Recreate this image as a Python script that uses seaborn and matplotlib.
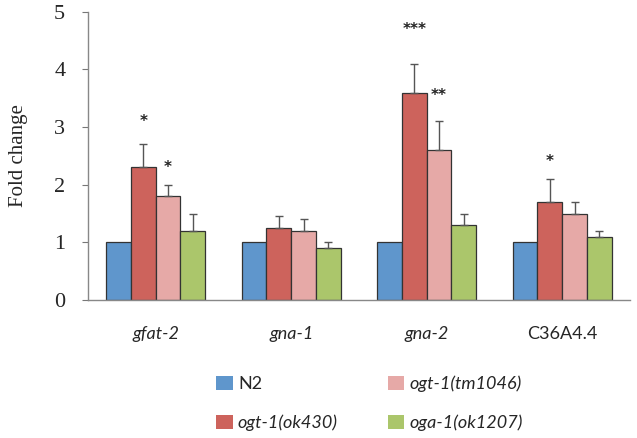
import numpy as np
import pandas as pd
import seaborn as sns
import matplotlib.pyplot as plt
from matplotlib.patches import Patch

genes = ["gfat-2", "gna-1", "gna-2", "C36A4.4"]
strains = ["N2", "ogt-1(ok430)", "ogt-1(tm1046)", "oga-1(ok1207)"]

n2 = [1.0, 1.0, 1.0, 1.0]
ok430 = [2.3, 1.25, 3.6, 1.7]
tm1046 = [1.8, 1.2, 2.6, 1.5]
ok1207 = [1.2, 0.9, 1.3, 1.1]

n2_err = [0, 0, 0, 0]
ok430_err = [0.4, 0.2, 0.5, 0.4]
tm1046_err = [0.2, 0.2, 0.5, 0.2]
ok1207_err = [0.3, 0.1, 0.2, 0.1]

ok430_stars = ["*", "", "***", "*"]
tm1046_stars = ["*", "", "**", ""]
ok430_star_y = [3.1, 0, 4.7, 2.4]
tm1046_star_y = [2.3, 0, 3.55, 0]

colors = ["#5F96CC", "#CD635C", "#E6A9A7", "#ABC66B"]

df = pd.DataFrame({
    "gene": genes * 4,
    "strain": np.repeat(strains, 4),
    "fold": n2 + ok430 + tm1046 + ok1207,
    "err": n2_err + ok430_err + tm1046_err + ok1207_err,
})

sns.set_style("white")
fig = plt.figure(figsize=(6.37, 4.38), dpi=100)
ax = fig.add_axes([0.138, 0.315, 0.851, 0.658])

sns.barplot(data=df, x="gene", y="fold", hue="strain", hue_order=strains,
            palette=colors, width=0.73, edgecolor="#333333", linewidth=0.9,
            errorbar=None, legend=False, ax=ax, saturation=1)

# upper-only error bars
for cont, s in zip(ax.containers, strains):
    sub = df[df.strain == s]
    for bar, e in zip(cont, sub["err"]):
        if e > 0:
            xc = bar.get_x() + bar.get_width() / 2
            ax.errorbar(xc, bar.get_height(), yerr=[[0], [e]], fmt="none",
                        ecolor="#555555", elinewidth=1, capsize=3, capthick=1)

# significance stars
for cont, stars, ys in [(ax.containers[1], ok430_stars, ok430_star_y),
                        (ax.containers[2], tm1046_stars, tm1046_star_y)]:
    for bar, st, y in zip(cont, stars, ys):
        if st:
            xc = bar.get_x() + bar.get_width() / 2
            ax.text(xc, y, st, ha="center", va="center", fontsize=11,
                    fontweight="bold", color="#222222")

ax.set_ylim(0, 5)
ax.set_xlim(-0.5, 3.5)
ax.set_yticks(range(6))
ax.set_yticklabels([str(i) for i in range(6)], family="Liberation Serif", fontsize=16)
ax.set_ylabel("Fold change", family="Liberation Serif", fontsize=15)
ax.yaxis.set_label_coords(-0.11, 0.5)
ax.set_xlabel("")
ax.set_xticks(range(4))
ax.set_xticklabels([])
for i, g in enumerate(genes):
    ax.text(i, -0.45, g, ha="center", va="top", fontsize=13, family="Lato",
            style="normal" if g == "C36A4.4" else "italic",
            transform=ax.transData)
ax.set_xticks(np.arange(-0.5, 4, 1), minor=True)
ax.tick_params(axis="x", which="major", length=0)
ax.tick_params(axis="x", which="minor", length=4, color="#777777", direction="out")
ax.tick_params(axis="y", length=4.3, pad=12, color="#777777", direction="out", left=True)

sns.despine(ax=ax)
for sp in ["left", "bottom"]:
    ax.spines[sp].set_color("#888888")
    ax.spines[sp].set_linewidth(1)

handles = [Patch(facecolor=c, edgecolor="none") for c in colors]
leg = fig.legend(handles, strains, loc="lower left", bbox_to_anchor=(0.314, -0.022),
                 ncol=2, frameon=False, handlelength=0.9, handleheight=0.75,
                 columnspacing=2.75, labelspacing=1.25, handletextpad=0.3,
                 prop={"family": "Lato", "size": 13})
for t in leg.get_texts():
    if t.get_text() != "N2":
        t.set_style("italic")

fig.savefig("out.png", dpi=100)
